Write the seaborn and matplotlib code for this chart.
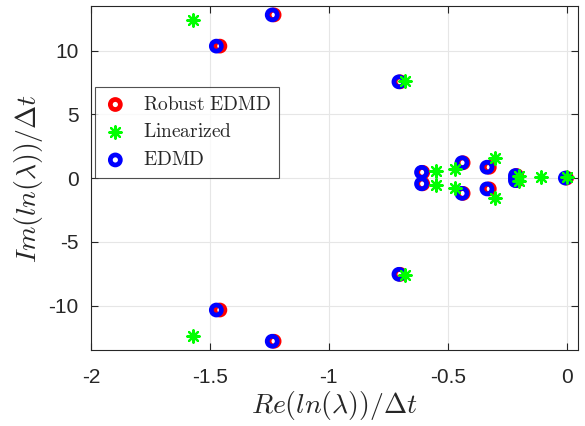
import numpy as np
import pandas as pd
import matplotlib
matplotlib.use('Agg')
import matplotlib.pyplot as plt
import seaborn as sns

# eigenvalues, continuous-time: Re and Im of ln(lambda)/dt
robust_re = [-1.23, -1.23, -1.458, -1.458, -0.70, -0.70, -0.605, -0.605,
             -0.435, -0.435, -0.325, -0.325, -0.21, -0.21, -0.21, 0.0]
robust_im = [12.8, -12.8, 10.35, -10.35, 7.55, -7.55, 0.45, -0.45,
             1.2, -1.2, 0.85, -0.85, 0.2, -0.2, 0.0, 0.0]

lin_re = [-1.573, -1.573, -0.68, -0.68, -0.548, -0.548, -0.47, -0.47,
          -0.303, -0.303, -0.20, -0.20, -0.106, 0.0]
lin_im = [12.4, -12.4, 7.6, -7.6, 0.55, -0.55, 0.75, -0.75,
          1.6, -1.6, 0.2, -0.2, 0.05, 0.05]

edmd_re = [-1.238, -1.238, -1.473, -1.473, -0.705, -0.705, -0.61, -0.61,
           -0.44, -0.44, -0.335, -0.335, -0.215, -0.215, -0.215, -0.005]
edmd_im = [12.8, -12.8, 10.35, -10.35, 7.55, -7.55, 0.45, -0.45,
           1.2, -1.2, 0.85, -0.85, 0.2, -0.2, 0.0, 0.0]

sns.set_style('whitegrid')
plt.rcParams['font.family'] = ['Liberation Sans', 'DejaVu Sans']
plt.rcParams['mathtext.fontset'] = 'cm'

fig = plt.figure(figsize=(5.85, 4.26), dpi=100)
ax = fig.add_axes([0.1556, 0.178, 0.832, 0.808])

sns.scatterplot(x=robust_re, y=robust_im, ax=ax, marker='o', s=52,
                facecolor='none', edgecolor='#ff0000', linewidth=3.4,
                label=r'$\mathrm{Robust\ EDMD}$', zorder=3)
sns.scatterplot(x=lin_re, y=lin_im, ax=ax, marker=(8, 2, 0), s=80,
                color='#00ff00', edgecolor='#00ff00', linewidth=1.6,
                label=r'$\mathrm{Linearized}$', zorder=4)
sns.scatterplot(x=edmd_re, y=edmd_im, ax=ax, marker='o', s=52,
                facecolor='none', edgecolor='#0000ff', linewidth=3.4,
                label=r'$\mathrm{EDMD}$', zorder=3)

ax.set_xlim(-2, 0.047)
ax.set_ylim(-13.5, 13.5)
ax.set_xticks([-2, -1.5, -1, -0.5, 0])
ax.set_xticklabels(['-2', '-1.5', '-1', '-0.5', '0'])
ax.set_yticks([-10, -5, 0, 5, 10])
ax.set_yticklabels(['-10', '-5', '0', '5', '10'])
ax.tick_params(labelsize=15, direction='in', length=5, width=0.8, pad=9,
               top=True, right=True, bottom=True, left=True, colors='#262626')
ax.tick_params(axis='x', pad=13)
ax.grid(True, color='#e6e6e6', linewidth=0.8)
for s in ax.spines.values():
    s.set_color('#262626')
    s.set_linewidth(0.8)

ax.set_xlabel(r'$Re(ln(\lambda))/\Delta t$', fontsize=20, labelpad=1)
ax.set_ylabel(r'$Im(ln(\lambda))/\Delta t$', fontsize=20, labelpad=2)

leg = ax.legend(loc='upper left', bbox_to_anchor=(0.008, 0.765), fontsize=14,
                frameon=True, fancybox=False, edgecolor='#262626',
                borderpad=0.45, labelspacing=0.5, handletextpad=0.8,
                handlelength=1.2, borderaxespad=0)
leg.get_frame().set_linewidth(0.8)

fig.savefig('out.png', dpi=100)
